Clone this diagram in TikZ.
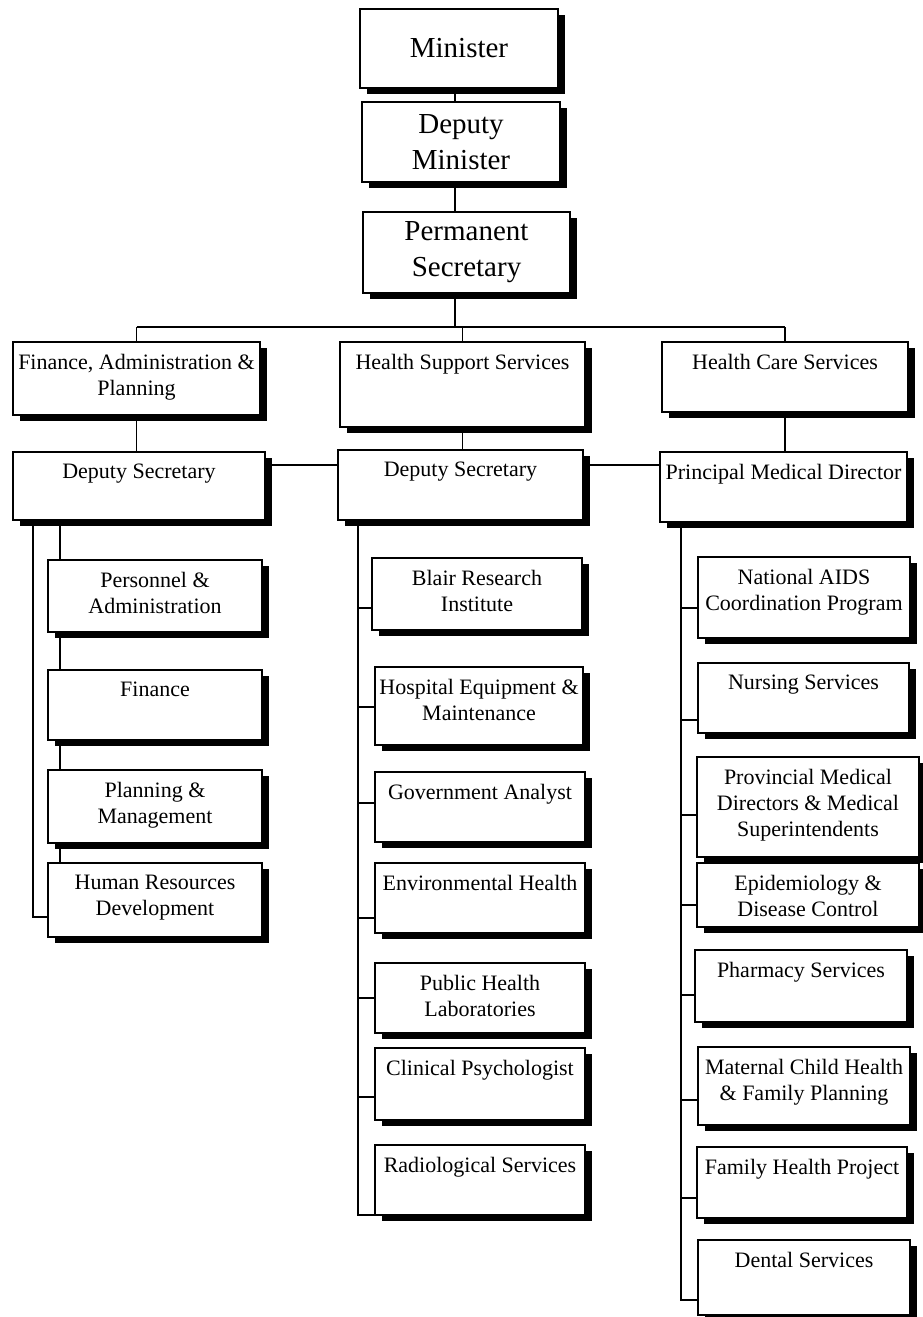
\documentclass[tikz,border=0pt]{standalone}
\usepackage{fontspec}
\setmainfont{Liberation Serif}
\usetikzlibrary{shadows}

\tikzset{
  unit/.style={draw, line width=1.1pt, fill=white, inner sep=0pt,
    drop shadow={shadow xshift=3.5pt, shadow yshift=-3pt, fill=black, opacity=1}},
  unittext/.style={anchor=north, align=center, inner sep=0pt, yshift=-6.5pt,
    font=\fontsize{11}{13}\selectfont},
  toptext/.style={align=center, font=\fontsize{14.5}{18}\selectfont},
  link/.style={line width=0.9pt}
}

% box from corner (x1,y1) to (x2,y2), text near its top
\newcommand{\orgunit}[6]{%
  \node[unit, minimum width={(#4-#2)*0.5pt}, minimum height={(#5-#3)*0.5pt},
        label={[unittext]north:{#6}}] (#1) at ({(#2+#4)/2},{(#3+#5)/2}) {};}

\begin{document}
\begin{tikzpicture}[x=0.5pt, y=-0.5pt]
        \useasboundingbox (0,0) rectangle (922,1317);

        % top of the chart
        \node[unit, toptext, minimum width=99pt, minimum height=39.5pt] (min) at (459,48.5) {Minister};
        \node[unit, toptext, minimum width=99pt, minimum height=40pt] (dep) at (461,142) {Deputy\\Minister};
        \node[unit, toptext, minimum width=103.5pt, minimum height=40.5pt] (perm) at (466.5,252.5) {Permanent\\Secretary};

        \orgunit{fap}{13}{342}{260}{415}{Finance, Administration \&\\Planning}
        \orgunit{hss}{340}{342}{585}{427}{Health Support Services}
        \orgunit{hcs}{662}{342}{908}{412}{Health Care Services}

        \orgunit{lds}{13}{452}{265}{520}{Deputy Secretary}
        \orgunit{mds}{338}{450}{583}{520}{Deputy Secretary}
        \orgunit{pmd}{660}{452}{907}{522}{Principal Medical Director}

        % left column
        \orgunit{pers}{48}{560}{262}{632}{Personnel \&\\Administration}
        \orgunit{fin}{48}{670}{262}{740}{Finance}
        \orgunit{plan}{48}{770}{262}{843}{Planning \&\\Management}
        \orgunit{hrd}{48}{863}{262}{937}{Human Resources\\Development}

        % middle column
        \orgunit{blair}{372}{558}{582}{630}{Blair Research\\Institute}
        \orgunit{hosp}{375}{667}{583}{745}{Hospital Equipment \&\\Maintenance}
        \orgunit{gov}{375}{772}{585}{842}{Government Analyst}
        \orgunit{env}{375}{863}{585}{933}{Environmental Health}
        \orgunit{pub}{375}{963}{585}{1033}{Public Health\\Laboratories}
        \orgunit{clin}{375}{1048}{585}{1120}{Clinical Psychologist}
        \orgunit{rad}{375}{1145}{585}{1215}{Radiological Services}

        % right column
        \orgunit{aids}{698}{557}{910}{638}{National AIDS\\Coordination Program}
        \orgunit{nurs}{698}{663}{909}{733}{Nursing Services}
        \orgunit{prov}{697}{757}{919}{857}{Provincial Medical\\Directors \& Medical\\Superintendents}
        \orgunit{epi}{697}{863}{919}{927}{Epidemiology \&\\Disease Control}
        \orgunit{pharm}{695}{950}{907}{1022}{Pharmacy Services}
        \orgunit{mch}{698}{1047}{910}{1125}{Maternal Child Health\\\& Family Planning}
        \orgunit{fhp}{697}{1147}{907}{1218}{Family Health Project}
        \orgunit{dent}{698}{1240}{910}{1315}{Dental Services}

        % lines
        \coordinate (trunk) at (455,0);
        \coordinate (bus) at (0,327);
        \coordinate (row) at (0,465);
        \draw[link] (min.south -| trunk) -- (dep.north -| trunk);
        \draw[link] (dep.south -| trunk) -- (perm.north -| trunk);
        \draw[link] (perm.south -| trunk) -- (trunk |- bus);
        \draw[link] (fap.north |- bus) -- (hcs.north |- bus);
        \foreach \a/\b in {fap/lds, hss/mds, hcs/pmd} {
          \draw[link] (\a.north |- bus) -- (\a.north);
          \draw[link] (\a.south) -- (\a.south |- \b.north);
        }
        \draw[link] (lds.east |- row) -- (mds.west |- row);
        \draw[link] (mds.east |- row) -- (pmd.west |- row);

        \coordinate (louter) at (33,0);
        \coordinate (linner) at (60,0);
        \draw[link] (lds.south -| louter) |- (hrd.west |- 0,917);
        \foreach \a/\b in {lds/pers, pers/fin, fin/plan, plan/hrd}
          \draw[link] (\a.south -| linner) -- (\b.north -| linner);

        \coordinate (mtrunk) at (358,0);
        \draw[link] (mds.south -| mtrunk) |- (rad.west |- 0,1215);
        \foreach \n/\y in {blair/608, hosp/707, gov/803, env/918, pub/998, clin/1097}
          \draw[link] (mtrunk |- 0,\y) -- (\n.west |- 0,\y);

        \coordinate (rtrunk) at (681,0);
        \draw[link] (pmd.south -| rtrunk) |- (dent.west |- 0,1300);
        \foreach \n/\y in {aids/608, nurs/720, prov/815, epi/905, pharm/995, mch/1100, fhp/1198}
          \draw[link] (rtrunk |- 0,\y) -- (\n.west |- 0,\y);
    \end{tikzpicture}
\end{document}
